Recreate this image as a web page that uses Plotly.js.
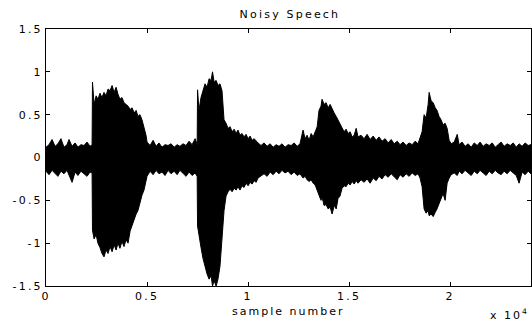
<!DOCTYPE html>
<html>
<head>
<meta charset="utf-8">
<script src="https://cdn.plot.ly/plotly-3.0.1.min.js"></script>
<style>
html,body{margin:0;padding:0;background:#fff;}
#chart{width:532px;height:327px;}
#chart text{letter-spacing:2.2px;}
#chart .annotation text{letter-spacing:2px;}
</style>
</head>
<body>
<div id="chart"></div>
<script>
const sampleIdx = [
  0,150,300,450,590,740,890,1040,1140,1290,
  1440,1580,1730,1880,2030,2180,2280,2300,2380,2480,
  2570,2670,2770,2870,2970,3070,3170,3270,3370,3470,
  3560,3660,3760,3860,3960,4060,4160,4260,4360,4460,
  4550,4650,4750,4850,4950,5000,5150,5300,5450,5590,
  5740,5890,6040,6190,6340,6490,6630,6780,6930,7080,
  7230,7380,7480,7500,7570,7670,7770,7870,7970,8070,
  8170,8240,8320,8420,8510,8610,8710,8760,8810,8910,
  9010,9110,9210,9310,9410,9500,9600,9700,9800,9900,
  10000,10100,10200,10300,10400,10490,10640,10790,10940,11090,
  11240,11390,11530,11680,11830,11980,12130,12280,12430,12570,
  12720,12820,12920,13020,13120,13220,13320,13420,13510,13610,
  13660,13760,13860,13960,14060,14160,14260,14360,14450,14550,
  14650,14750,14850,14950,15050,15150,15250,15350,15440,15590,
  15740,15890,16040,16190,16340,16480,16630,16780,16930,17080,
  17230,17380,17520,17670,17820,17970,18120,18270,18410,18510,
  18610,18710,18810,18910,18960,19060,19160,19260,19350,19450,
  19550,19650,19750,19850,19950,20050,20200,20350,20440,20590,
  20740,20890,21040,21190,21340,21480,21630,21780,21930,22080,
  22230,22370,22520,22670,22820,22970,23120,23270,23410,23560,
  23710,23860,24000
];
// Upper (positive) peak envelope of the noisy speech signal
const upperEnv = [
  0.12,0.15,0.21,0.13,0.16,0.22,0.12,0.15,0.21,0.13,
  0.17,0.12,0.15,0.14,0.18,0.13,0.15,0.88,0.62,0.72,
  0.68,0.75,0.70,0.76,0.72,0.80,0.78,0.84,0.76,0.82,
  0.74,0.68,0.70,0.64,0.62,0.60,0.56,0.58,0.52,0.55,
  0.48,0.50,0.44,0.36,0.26,0.18,0.14,0.20,0.13,0.17,
  0.12,0.15,0.14,0.16,0.12,0.15,0.13,0.16,0.14,0.19,
  0.15,0.22,0.15,0.79,0.55,0.70,0.78,0.86,0.82,0.92,
  0.90,1.00,0.88,0.90,0.84,0.86,0.78,0.60,0.44,0.40,
  0.34,0.36,0.30,0.33,0.28,0.32,0.26,0.28,0.24,0.27,
  0.22,0.25,0.20,0.22,0.19,0.17,0.14,0.17,0.13,0.16,
  0.12,0.15,0.13,0.16,0.12,0.15,0.14,0.17,0.13,0.16,
  0.32,0.22,0.26,0.20,0.28,0.24,0.30,0.36,0.55,0.60,
  0.68,0.62,0.64,0.58,0.62,0.56,0.52,0.48,0.44,0.40,
  0.34,0.30,0.33,0.28,0.30,0.24,0.26,0.34,0.24,0.26,
  0.22,0.27,0.21,0.25,0.20,0.24,0.19,0.22,0.17,0.21,
  0.16,0.19,0.15,0.18,0.14,0.17,0.15,0.19,0.16,0.22,
  0.30,0.50,0.46,0.62,0.76,0.66,0.64,0.58,0.55,0.48,
  0.44,0.38,0.40,0.34,0.20,0.16,0.18,0.27,0.15,0.18,
  0.13,0.16,0.12,0.17,0.14,0.18,0.13,0.16,0.14,0.17,
  0.12,0.15,0.18,0.13,0.16,0.14,0.17,0.12,0.16,0.13,
  0.17,0.14,0.15
];
// Lower (negative) peak envelope of the noisy speech signal
const lowerEnv = [
  -0.16,-0.20,-0.15,-0.18,-0.22,-0.16,-0.19,-0.15,-0.20,-0.29,
  -0.17,-0.21,-0.16,-0.19,-0.22,-0.17,-0.18,-0.85,-0.95,-0.90,
  -1.00,-1.05,-1.12,-1.16,-1.08,-1.12,-1.04,-1.10,-1.02,-1.08,
  -1.00,-1.06,-0.98,-1.04,-0.96,-1.00,-0.86,-0.78,-0.72,-0.66,
  -0.62,-0.52,-0.44,-0.38,-0.28,-0.22,-0.16,-0.20,-0.15,-0.19,
  -0.17,-0.21,-0.15,-0.19,-0.16,-0.20,-0.15,-0.18,-0.22,-0.17,
  -0.21,-0.18,-0.22,-0.80,-0.92,-1.05,-1.18,-1.28,-1.36,-1.42,
  -1.38,-1.50,-1.44,-1.50,-1.42,-1.27,-1.00,-0.80,-0.62,-0.45,
  -0.40,-0.37,-0.40,-0.36,-0.38,-0.34,-0.38,-0.33,-0.35,-0.30,
  -0.33,-0.29,-0.31,-0.27,-0.29,-0.24,-0.22,-0.19,-0.22,-0.17,
  -0.20,-0.16,-0.19,-0.15,-0.18,-0.16,-0.20,-0.17,-0.21,-0.19,
  -0.24,-0.22,-0.26,-0.28,-0.26,-0.30,-0.32,-0.38,-0.44,-0.50,
  -0.46,-0.56,-0.55,-0.60,-0.58,-0.66,-0.56,-0.60,-0.48,-0.45,
  -0.36,-0.33,-0.34,-0.30,-0.32,-0.28,-0.31,-0.27,-0.30,-0.26,
  -0.29,-0.25,-0.30,-0.24,-0.27,-0.22,-0.25,-0.20,-0.23,-0.19,
  -0.22,-0.26,-0.20,-0.23,-0.19,-0.22,-0.18,-0.21,-0.19,-0.24,
  -0.34,-0.60,-0.65,-0.62,-0.68,-0.66,-0.69,-0.64,-0.60,-0.55,
  -0.48,-0.42,-0.50,-0.30,-0.24,-0.20,-0.18,-0.21,-0.16,-0.19,
  -0.15,-0.18,-0.21,-0.16,-0.19,-0.15,-0.18,-0.21,-0.16,-0.19,
  -0.15,-0.18,-0.20,-0.16,-0.19,-0.15,-0.18,-0.21,-0.30,-0.17,
  -0.20,-0.16,-0.19
];
const xTickVals = [0, 5000, 10000, 15000, 20000];
const xTickText = ['0', '0.5', '1', '1.5', '2'];
const yTickVals = [-1.5, -1, -0.5, 0, 0.5, 1, 1.5];
const yTickText = ['-1.5', '-1', '-0.5', '0', '0.5', '1', '1.5'];

const polyX = sampleIdx.concat(sampleIdx.slice().reverse());
const polyY = upperEnv.concat(lowerEnv.slice().reverse());

const font = {family: 'DejaVu Sans, Liberation Sans, Arial, sans-serif', size: 11, color: '#000'};

const trace = {
  x: polyX, y: polyY, type: 'scatter', mode: 'lines',
  fill: 'toself', fillcolor: '#000',
  line: {color: '#000', width: 1},
  hoverinfo: 'skip', showlegend: false
};

const axisCommon = {
  showgrid: false, zeroline: false, showline: true, linecolor: '#000', linewidth: 1,
  mirror: 'ticks', ticks: 'inside', ticklen: 4, tickcolor: '#000', tickwidth: 1,
  tickfont: font
};

const layout = {
  width: 532, height: 327,
  margin: {l: 46, r: 1, t: 29, b: 41},
  paper_bgcolor: '#fff', plot_bgcolor: '#fff',
  font: font,
  title: {text: 'Noisy Speech', font: font,
          x: 0.545, xanchor: 'center', y: 0.957, yanchor: 'middle', yref: 'container'},
  xaxis: Object.assign({}, axisCommon, {
    range: [0, 24000], tickmode: 'array', tickvals: xTickVals, ticktext: xTickText
  }),
  yaxis: Object.assign({}, axisCommon, {
    range: [-1.5, 1.5], tickmode: 'array', tickvals: yTickVals, ticktext: yTickText
  }),
  annotations: [
    {text: 'sample number', xref: 'paper', yref: 'paper', x: 0.5, y: -0.1,
     xanchor: 'center', yanchor: 'middle', showarrow: false, font: font},
    {text: 'x 10<sup>4</sup>', xref: 'paper', yref: 'paper', x: 0.99, y: -0.11,
     xanchor: 'right', yanchor: 'middle', showarrow: false, font: font}
  ]
};

Plotly.newPlot('chart', [trace], layout, {displayModeBar: false, staticPlot: true});
</script>
</body>
</html>
